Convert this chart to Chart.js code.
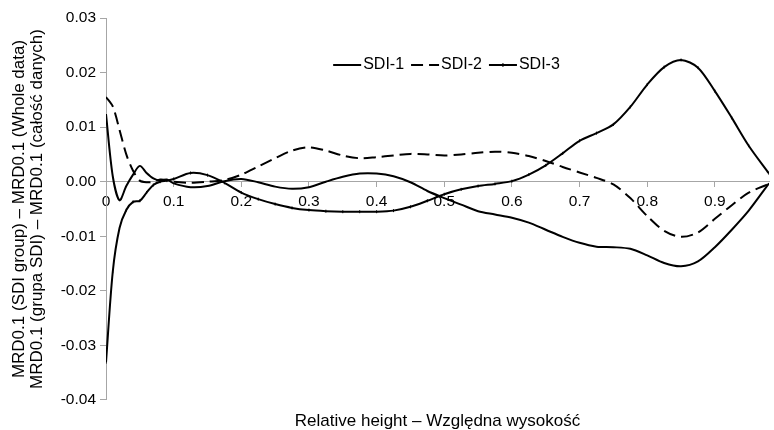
<!DOCTYPE html>
<html>
<head>
<meta charset="utf-8">
<script src="https://cdn.jsdelivr.net/npm/chart.js@4"></script>
<style>
  html, body { margin: 0; padding: 0; background: #fff; }
  #wrap { width: 774px; height: 430px; }
</style>
</head>
<body>
<div id="wrap"><canvas id="sdiChart" width="774" height="430"></canvas></div>
<script>
// relative height (x) and the three SDI series
const xs = [0, 0.01, 0.02, 0.03, 0.04, 0.05, 0.06, 0.07, 0.08, 0.09, 0.1,
  0.125, 0.15, 0.175, 0.2, 0.225, 0.25, 0.275, 0.3, 0.325, 0.35, 0.375, 0.4,
  0.425, 0.45, 0.475, 0.5, 0.525, 0.55, 0.575, 0.6, 0.625, 0.65, 0.675, 0.7,
  0.725, 0.75, 0.775, 0.8, 0.825, 0.85, 0.875, 0.9, 0.925, 0.95, 0.98];

const sdi1 = [0.0124, 0.0010, -0.0034, -0.0008, 0.0013, 0.0029, 0.0016, 0.0006, 0.0002, 0.0004, -0.0003,
  -0.0010, -0.0008, 0.0001, 0.0005, -0.0001, -0.0009, -0.0013, -0.0010, 0.0000, 0.0009, 0.0015, 0.0015,
  0.0010, -0.0001, -0.0017, -0.0030, -0.0042, -0.0054, -0.0060, -0.0066, -0.0075, -0.0088, -0.0101, -0.0112,
  -0.0119, -0.0120, -0.0123, -0.0135, -0.0149, -0.0155, -0.0146, -0.0120, -0.0088, -0.0053, -0.0003];

const sdi2 = [0.0155, 0.0138, 0.0095, 0.0050, 0.0020, 0.0002, -0.0001, 0.0000, 0.0004, 0.0003, 0.0000,
  -0.0002, 0.0000, 0.0003, 0.0013, 0.0028, 0.0043, 0.0057, 0.0063, 0.0057, 0.0048, 0.0043, 0.0045,
  0.0048, 0.0051, 0.0050, 0.0048, 0.0050, 0.0053, 0.0055, 0.0053, 0.0047, 0.0038, 0.0027, 0.0017,
  0.0007, -0.0005, -0.0030, -0.0063, -0.0090, -0.0101, -0.0093, -0.0068, -0.0043, -0.0020, -0.0004];

const sdi3 = [-0.0331, -0.0165, -0.0085, -0.0052, -0.0037, -0.0035, -0.0020, -0.0006, 0.0000, 0.0002, 0.0005,
  0.0016, 0.0012, -0.0002, -0.0020, -0.0032, -0.0041, -0.0048, -0.0052, -0.0054, -0.0055, -0.0055, -0.0055,
  -0.0053, -0.0046, -0.0035, -0.0023, -0.0014, -0.0008, -0.0004, 0.0001, 0.0013, 0.0030, 0.0052, 0.0075,
  0.0089, 0.0105, 0.0137, 0.0178, 0.0210, 0.0223, 0.0209, 0.0166, 0.0117, 0.0066, 0.0015];

const seriesLabels = ['SDI-1', 'SDI-2', 'SDI-3'];
const xTitle = 'Relative height \u2013 Wzgl\u0119dna wysoko\u015b\u0107';
const yTitle = ['MRD0.1 (SDI group) \u2013 MRD0.1 (Whole data)',
                'MRD0.1 (grupa SDI) \u2013 MRD0.1 (ca\u0142o\u015b\u0107 danych)'];

const FONT = '"Liberation Sans", Arial, sans-serif';
const toPoints = arr => xs.map((x, i) => ({x: x, y: arr[i]}));

// legend drawn inside the plot, above the curves
const inlineLegend = {
  id: 'inlineLegend',
  afterDatasetsDraw(chart) {
    const {ctx, chartArea} = chart;
    const sample = 28, gap = 2, spacing = 7;
    ctx.save();
    ctx.font = '16px ' + FONT;
    const items = chart.data.datasets.map(ds => ({ds: ds, w: ctx.measureText(ds.label).width}));
    let total = spacing * (items.length - 1);
    items.forEach(it => { total += sample + gap + it.w; });
    let x = (chartArea.left + chartArea.right) / 2 - total / 2 + 9;
    const y = chartArea.top + 47;
    items.forEach(it => {
      ctx.strokeStyle = '#000';
      ctx.lineWidth = 2;
      ctx.setLineDash(it.ds.borderDash || []);
      ctx.beginPath();
      ctx.moveTo(x, y);
      ctx.lineTo(x + sample, y);
      ctx.stroke();
      ctx.setLineDash([]);
      if (it.ds.pointRadius) {
        ctx.lineWidth = 1;
        ctx.beginPath();
        ctx.moveTo(x + sample / 2, y - 2);
        ctx.lineTo(x + sample / 2, y + 2);
        ctx.stroke();
      }
      ctx.fillStyle = '#000';
      ctx.textAlign = 'left';
      ctx.textBaseline = 'middle';
      ctx.fillText(it.ds.label, x + sample + gap, y);
      x += sample + gap + it.w + spacing;
    });
    ctx.restore();
  }
};

const sdiChart = new Chart("sdiChart", {
  type: 'line',
  data: {
    datasets: [{
        label: seriesLabels[0],
        data: toPoints(sdi1),
        borderColor: '#000',
        borderWidth: 2,
        pointRadius: 0,
        tension: 0.3
      },
      {
        label: seriesLabels[1],
        data: toPoints(sdi2),
        borderColor: '#000',
        borderWidth: 2,
        borderDash: [12, 6],
        pointRadius: 0,
        tension: 0.3
      },
      {
        label: seriesLabels[2],
        data: toPoints(sdi3),
        borderColor: '#000',
        borderWidth: 2,
        pointRadius: 1.5,
        pointStyle: 'line',
        rotation: 90,
        pointBorderWidth: 1,
        pointBorderColor: '#000',
        tension: 0.3
      }]
  },
  options: {
    responsive: false,
    animation: false,
    layout: {padding: {top: 18, right: 3, left: 0, bottom: 0}},
    plugins: {
      legend: {display: false},
      tooltip: {enabled: false},
      title: {
        display: true,
        position: 'bottom',
        fullSize: false,
        text: xTitle,
        color: '#000',
        font: {family: FONT, size: 17, weight: 'normal', lineHeight: 1.06},
        padding: {top: 12, bottom: 0}
      }
    },
    scales: {
      x: {
        type: 'linear',
        position: {y: 0},
        min: 0,
        max: 0.98,
        grid: {drawOnChartArea: false, drawTicks: true, tickLength: 5, color: '#a6a6a6'},
        border: {color: '#a6a6a6', width: 1},
        ticks: {
          stepSize: 0.1,
          includeBounds: false,
          maxRotation: 0,
          padding: 6,
          color: '#000',
          font: {family: FONT, size: 15.5},
          callback: v => (Math.abs(v) < 1e-9 ? '0' : v.toFixed(1))
        }
      },
      y: {
        min: -0.04,
        max: 0.03,
        grid: {drawOnChartArea: false, drawTicks: true, tickLength: 6, color: '#a6a6a6'},
        border: {color: '#a6a6a6', width: 1},
        ticks: {
          stepSize: 0.01,
          padding: 4,
          color: '#000',
          font: {family: FONT, size: 15.5},
          callback: v => (Math.abs(v) < 1e-9 ? '0.00' : v.toFixed(2))
        },
        title: {
          display: true,
          text: yTitle,
          color: '#000',
          font: {family: FONT, size: 17, lineHeight: 1.06},
          padding: {top: 10, bottom: 0}
        },
        afterFit: scale => { scale.width = 106; }
      }
    }
  },
  plugins: [inlineLegend]
});
</script>
</body>
</html>
